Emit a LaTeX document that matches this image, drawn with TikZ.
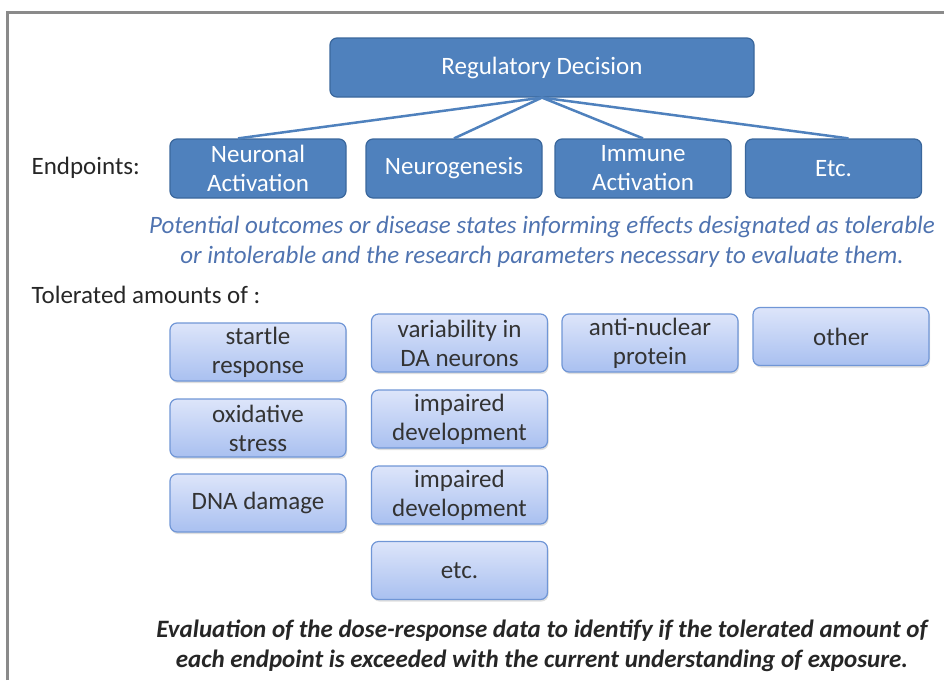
\documentclass[tikz,border=0pt]{standalone}
\usepackage{fontspec}
\setmainfont{Carlito}
\usetikzlibrary{positioning,shadows}
\definecolor{darkbox}{HTML}{4F81BD}
\definecolor{darkedge}{HTML}{3A679C}
\definecolor{lighttop}{HTML}{DDE5FA}
\definecolor{lightbot}{HTML}{A9C0F0}
\definecolor{lightedge}{HTML}{7096D6}
\definecolor{notetext}{HTML}{4F73B0}
\definecolor{frameline}{HTML}{8A8A8A}
\newcommand{\bigtext}{\fontsize{25}{29}\selectfont}
\newcommand{\notetext}{\fontsize{25}{30}\selectfont}

\begin{document}
\begin{tikzpicture}[x=1pt,y=-1pt,semithick]
  \tikzstyle{endpoint}=[draw=darkedge, line width=1.2pt, fill=darkbox, rounded corners=7pt,
    text=white, align=center, font=\bigtext, minimum width=176pt, minimum height=59pt, inner sep=0pt]
  \tikzstyle{amount}=[draw=lightedge, line width=1.2pt, top color=lighttop, bottom color=lightbot,
    rounded corners=7pt, text=black!80, align=center, font=\bigtext, minimum width=176pt,
    minimum height=58pt, inner sep=0pt, drop shadow={opacity=0.25, shadow xshift=1pt, shadow yshift=-2pt}]
  \tikzstyle{link}=[draw=darkbox, line width=2.5pt]

  \useasboundingbox (0,0) rectangle (944,680);
  \draw[frameline, line width=3pt] (7,680) -- (7,12) -- (944,12);

  % top of the tree
  \node[endpoint, minimum width=424pt] (regdec) at (542,67.5) {Regulatory Decision};

  \node[anchor=west, font=\bigtext, text=black!85] (eplabel) at (28,168) {Endpoints:};
  \node[endpoint] (neuro)   at (258,168.5) {Neuronal\\Activation};
  \node[endpoint] (genesis) at (454,168.5) {Neurogenesis};
  \node[endpoint] (immune)  at (643,168.5) {Immune\\Activation};
  \node[endpoint] (etcep)   at (833.5,168.5) {Etc.};

  \path[link] (regdec.south) -- ([xshift=-20pt]neuro.north);
  \path[link] (regdec.south) -- (genesis.north);
  \path[link] (regdec.south) -- (immune.north);
  \path[link] (regdec.south) -- ([xshift=15pt]etcep.north);

  \node[font=\notetext\itshape, text=notetext, align=center] (outcomes) at (542,242)
    {Potential outcomes or disease states informing effects designated as tolerable\\
     or intolerable and the research parameters necessary to evaluate them.};

  \node[anchor=west, font=\bigtext, text=black!85] (tolabel) at (28,295) {Tolerated amounts of :};

  % tolerated amounts
  \node[amount] (startle) at (258,352)   {startle\\response};
  \node[amount] (oxid)    at (258,428)   {oxidative\\stress};
  \node[amount] (dna)     at (258,503)   {DNA damage};
  \node[amount] (davar)   at (459.5,343) {variability in\\DA neurons};
  \node[amount] (impdevA) at (459.5,419) {impaired\\development};
  \node[amount] (impdevB) at (459.5,495) {impaired\\development};
  \node[amount] (etcamt)  at (459.5,570.5) {etc.};
  \node[amount] (antinuc) at (650,343)   {anti-nuclear\\protein};
  \node[amount] (other)   at (841,336.5) {other};

  \node[font=\notetext\bfseries\itshape, text=black!85, align=center] (evaluation) at (542,646)
    {Evaluation of the dose-response data to identify if the tolerated amount of\\
     each endpoint is exceeded with the current understanding of exposure.};
\end{tikzpicture}
\end{document}
